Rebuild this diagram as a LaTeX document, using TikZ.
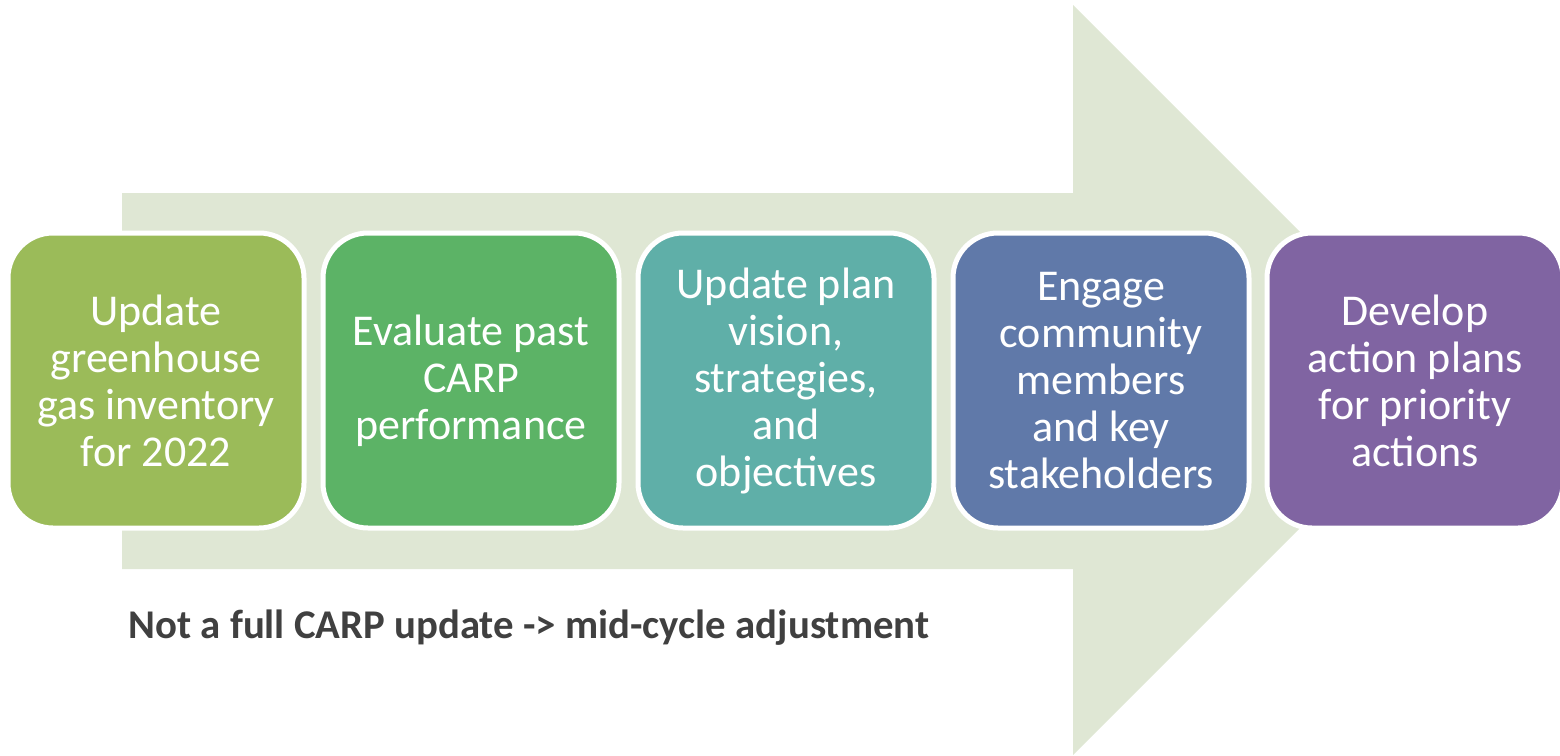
\documentclass[tikz,border=0pt]{standalone}
\usepackage{fontspec}
\setmainfont{Carlito}
\usepackage{xcolor}
\usepackage{tikz}
\definecolor{arrowgreen}{HTML}{DFE7D4}
\definecolor{stepone}{HTML}{9BBB59}
\definecolor{steptwo}{HTML}{5CB366}
\definecolor{stepthree}{HTML}{5FAFA8}
\definecolor{stepfour}{HTML}{6079A9}
\definecolor{stepfive}{HTML}{8064A2}
\definecolor{notegray}{HTML}{404040}

\begin{document}
\begin{tikzpicture}[x=1pt,y=-1pt,
	stepbox/.style={draw=white,line width=5pt,rounded corners=45pt,
		minimum width=296pt,minimum height=295pt,align=center,text=white,
		font=\fontsize{44}{47}\selectfont}]
		\useasboundingbox (0,0) rectangle (1560,755);
		% background arrow
		\fill[arrowgreen] (122,193) -- (1073,193) -- (1073,5) -- (1448,380)
			-- (1073,755) -- (1073,569) -- (122,569) -- cycle;
		%
		\node[stepbox,fill=stepone] (A) at (156,380.5) {Update\\greenhouse\\gas inventory\\for 2022};
		\node[stepbox,fill=steptwo] (B) at (471,380.5) {Evaluate past\\CARP\\performance};
		\node[stepbox,fill=stepthree] (C) at (786,380.5) {Update plan\\vision,\\strategies,\\and\\objectives};
		\node[stepbox,fill=stepfour] (D) at (1101,380.5) {Engage\\community\\members\\and key\\stakeholders};
		\node[stepbox,fill=stepfive] (E) at (1415,380.5) {Develop\\action plans\\for priority\\actions};
		%
		\node[anchor=west,text=notegray,font=\fontsize{40.8}{46}\selectfont\bfseries] (N) at (125,628)
			{Not a full CARP update -> mid-cycle adjustment};
\end{tikzpicture}
\end{document}
